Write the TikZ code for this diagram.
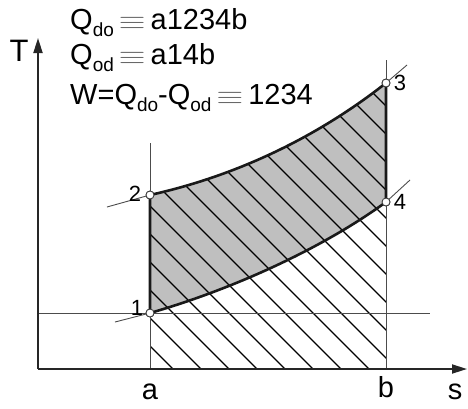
\documentclass[tikz,border=0pt]{standalone}
\usepackage{fontspec}
\setmainfont{Liberation Sans}
\usetikzlibrary{arrows.meta}

\newcommand{\subi}[1]{\raisebox{-7pt}{\fontsize{19}{19}\selectfont #1}}
\newcommand{\equi}{\,{\color{black!60}\fontsize{24}{24}\selectfont\scalebox{1.4}[1.05]{$\equiv$}}\,}

\begin{document}
\begin{tikzpicture}[x=1pt,y=-1pt,
    fina/.style={draw=black!70, line width=0.9pt},
    gruesa/.style={draw=black!90, line width=2.6pt, line join=round},
    eje/.style={draw=black!85, line width=1.8pt},
    punto/.style={circle, draw=black!80, fill=white, line width=0.8pt, inner sep=0pt, minimum size=8pt},
    rotulo/.style={font=\fontsize{22}{22}\selectfont, inner sep=0pt},
    letra/.style={font=\fontsize{29}{29}\selectfont, inner sep=0pt},
    texto/.style={font=\fontsize{29}{29}\selectfont, inner sep=0pt, anchor=base west}]

    \useasboundingbox (0,0) rectangle (468,408);

    % Ejes T-s
    \coordinate (O) at (38,369);
    \coordinate (Tfin) at (38,38);
    \coordinate (sfin) at (467,369);

    % Puntos del ciclo
    \node[punto] (p1) at (150,313) {};
    \node[punto] (p2) at (150,195) {};
    \node[punto] (p3) at (386,83) {};
    \node[punto] (p4) at (386,202) {};

    % Region a1234b: relleno gris y rayado
    \fill[black!25] (p1.center) -- (p2.center)
        .. controls (240,175) and (320,135) .. (p3.center) -- (p4.center)
        .. controls (320,250) and (230,290) .. (p1.center) -- cycle;
    \begin{scope}
        \clip (150,369) -- (p2.center)
            .. controls (240,175) and (320,135) .. (p3.center) -- (386,369) -- cycle;
        \foreach \k in {0,...,18}
            \draw[black, line width=1.3pt] ({173+28*\k+40},409) -- ({173+28*\k-320},49);
    \end{scope}

    % Lineas finas auxiliares
    \coordinate (aArr) at (150,143);
    \coordinate (aAb) at (150,369);
    \coordinate (bArr) at (386,60);
    \coordinate (bAb) at (386,369);
    \coordinate (hIzq) at (38,313);
    \coordinate (hDer) at (430,313);
    \draw[fina] (aArr) -- (aAb);
    \draw[fina] (bArr) -- (bAb);
    \draw[fina] (hIzq) -- (hDer);

    % Contorno del ciclo
    \draw[gruesa] (p1.center) -- (p2.center)
        .. controls (240,175) and (320,135) .. (p3.center) -- (p4.center)
        .. controls (320,250) and (230,290) .. (p1.center) -- cycle;

    % Ejes
    \draw[eje, -{Triangle[length=15pt, width=9pt]}] (O) -- (Tfin);
    \draw[eje, -{Triangle[length=15pt, width=9pt]}] (O) -- (sfin);

    % Trazos de referencia de los puntos
    \coordinate (t1) at (115,322);
    \coordinate (t2) at (107,207);
    \coordinate (t3) at (407,65);
    \coordinate (t4) at (410,180);
    \draw[fina] (p1) -- (t1);
    \draw[fina] (p2) -- (t2);
    \draw[fina] (p3) -- (t3);
    \draw[fina] (p4) -- (t4);
    \foreach \p in {p1,p2,p3,p4}
        \node[punto] at (\p) {};

    % Rotulos
    \node[rotulo] (n1) at (137,308) {1};
    \node[rotulo] (n2) at (135,194) {2};
    \node[rotulo] (n3) at (400,83) {3};
    \node[rotulo] (n4) at (400,202) {4};
    \node[letra] (la) at (150,392) {a};
    \node[letra] (lb) at (386,387) {b};
    \node[letra] (ls) at (455,392) {s};
    \node[letra, font=\fontsize{31}{31}\selectfont] (lT) at (19,51) {T};

    % Calores y trabajo
    \node[texto] (qdo) at (70,29) {Q\subi{do}\equi a1234b};
    \node[texto] (qod) at (70,64) {Q\subi{od}\equi a14b};
    \node[texto] (w) at (70,104) {W=Q\subi{do}-Q\subi{od}\equi 1234};

\end{tikzpicture}
\end{document}
